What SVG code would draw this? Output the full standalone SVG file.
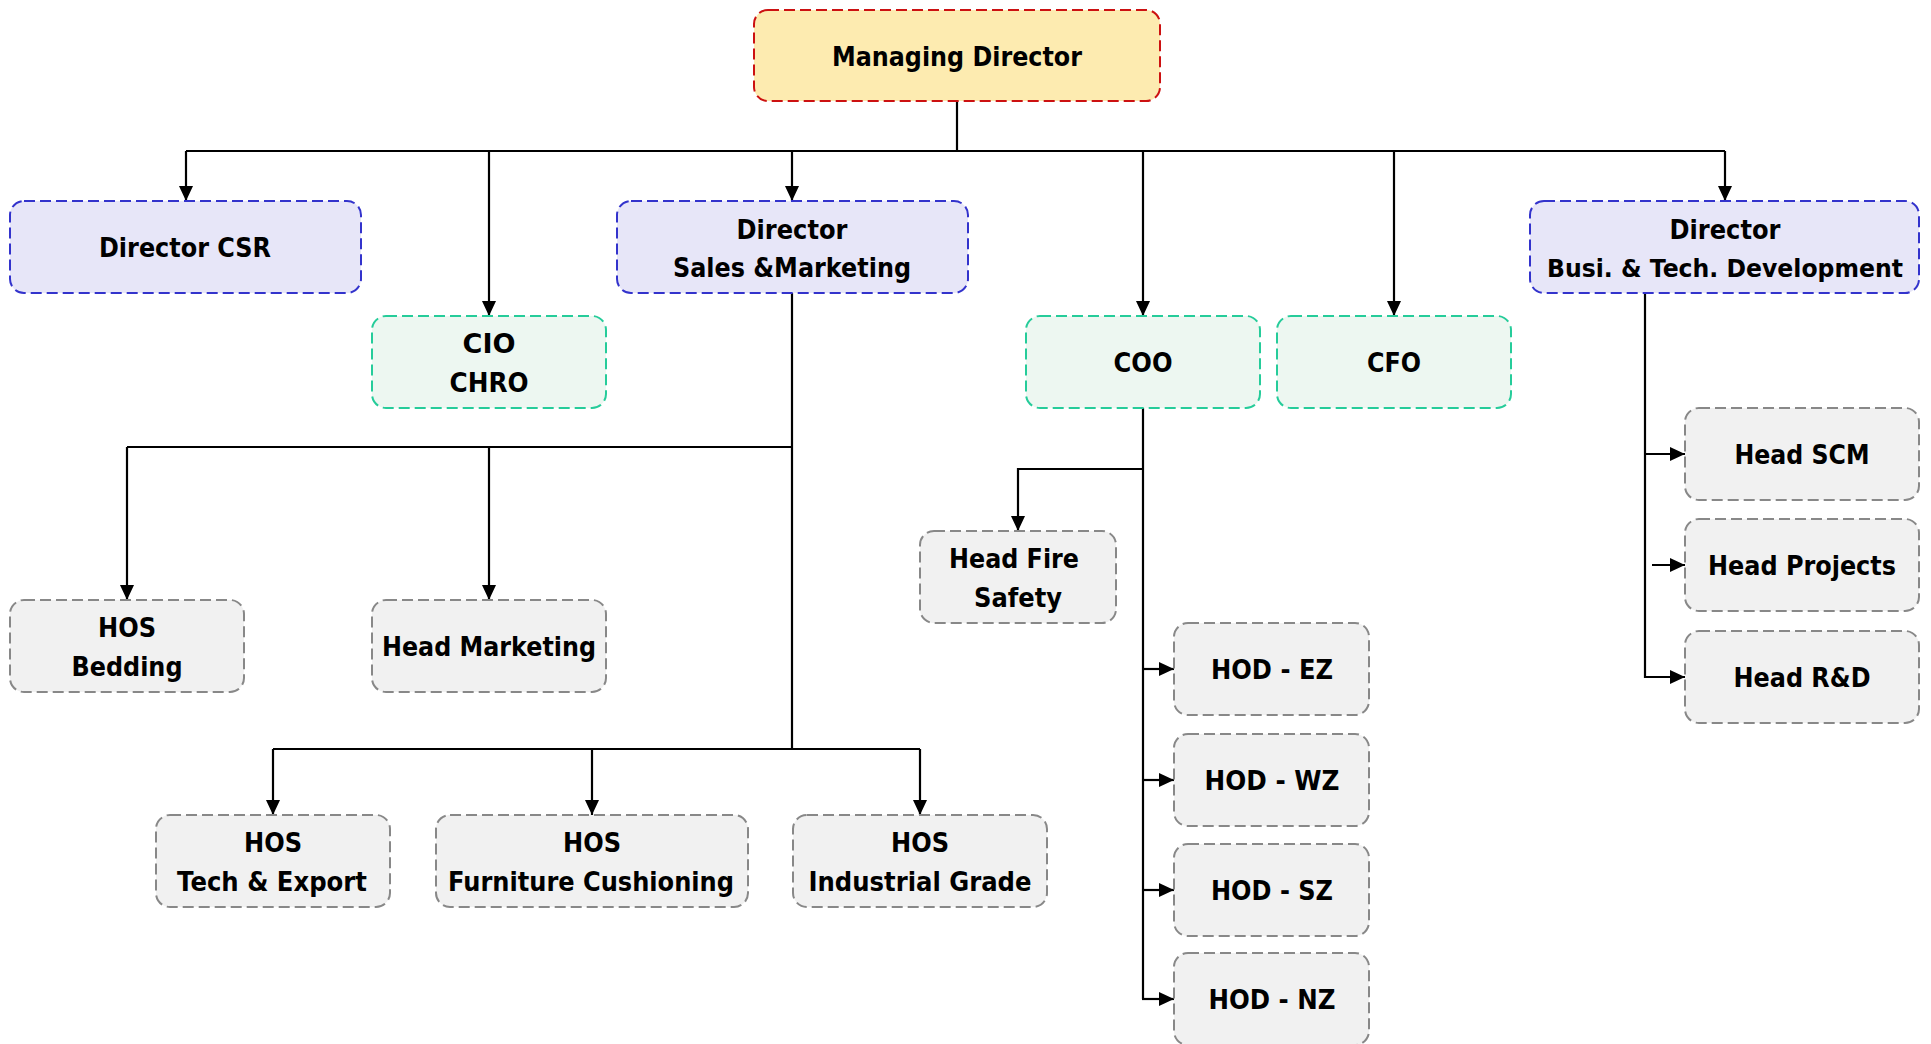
<svg xmlns="http://www.w3.org/2000/svg" width="1931" height="1044" viewBox="0 0 1931 1044">
<style>
.box{stroke-width:2;stroke-dasharray:11 5}
.md{fill:#fdebb0;stroke:#cc1111}
.dir{fill:#e7e6f8;stroke:#3333cc}
.cx{fill:#edf7f1;stroke:#26cc9a}
.hd{fill:#f1f1f1;stroke:#888888}
text{font-family:"DejaVu Sans","Liberation Sans",sans-serif;font-weight:bold;font-size:26px;fill:#000;text-anchor:middle}
.con path{fill:none;stroke:#000;stroke-width:2.2}
</style>
<defs>
<marker id="arr" markerUnits="userSpaceOnUse" markerWidth="15" markerHeight="14" refX="15" refY="7" orient="auto">
<path d="M0,0 L15,7 L0,14 z" fill="#000"/>
</marker>
</defs>
<rect width="1931" height="1044" fill="#fff"/>
<g class="con">
<path d="M957,101 V151"/>
<path d="M186,151 H1725"/>
<path d="M186,151 V201" marker-end="url(#arr)"/>
<path d="M489,151 V316" marker-end="url(#arr)"/>
<path d="M792,151 V201" marker-end="url(#arr)"/>
<path d="M1143,151 V316" marker-end="url(#arr)"/>
<path d="M1394,151 V316" marker-end="url(#arr)"/>
<path d="M1725,151 V201" marker-end="url(#arr)"/>
<path d="M792,293 V749"/>
<path d="M127,447 H792"/>
<path d="M127,447 V600" marker-end="url(#arr)"/>
<path d="M489,447 V600" marker-end="url(#arr)"/>
<path d="M273,749 H920"/>
<path d="M273,749 V815" marker-end="url(#arr)"/>
<path d="M592,749 V815" marker-end="url(#arr)"/>
<path d="M920,749 V815" marker-end="url(#arr)"/>
<path d="M1143,408 V999"/>
<path d="M1143,469 H1018 V531" marker-end="url(#arr)"/>
<path d="M1143,669 H1174" marker-end="url(#arr)"/>
<path d="M1143,780 H1174" marker-end="url(#arr)"/>
<path d="M1143,890 H1174" marker-end="url(#arr)"/>
<path d="M1142,999 H1174" marker-end="url(#arr)"/>
<path d="M1645,293 V677 H1685" marker-end="url(#arr)"/>
<path d="M1645,454 H1685" marker-end="url(#arr)"/>
<path d="M1652,565 H1685" marker-end="url(#arr)"/>
</g>
<g id="md"><rect class="box md" x="754" y="10" width="406" height="91" rx="14"/><text x="957" y="66" textLength="250" lengthAdjust="spacingAndGlyphs">Managing Director</text></g>
<g id="dir-csr"><rect class="box dir" x="10" y="201" width="351" height="92" rx="14"/><text x="185" y="257" textLength="172" lengthAdjust="spacingAndGlyphs">Director CSR</text></g>
<g id="cio-chro"><rect class="box cx" x="372" y="316" width="234" height="92" rx="14"/><text x="489" y="353" textLength="53" lengthAdjust="spacingAndGlyphs">CIO</text><text x="489" y="392" textLength="79" lengthAdjust="spacingAndGlyphs">CHRO</text></g>
<g id="dir-sm"><rect class="box dir" x="617" y="201" width="351" height="92" rx="14"/><text x="792" y="239" textLength="111" lengthAdjust="spacingAndGlyphs">Director</text><text x="792" y="277" textLength="238" lengthAdjust="spacingAndGlyphs">Sales &amp;Marketing</text></g>
<g id="coo"><rect class="box cx" x="1026" y="316" width="234" height="92" rx="14"/><text x="1143" y="372" textLength="59" lengthAdjust="spacingAndGlyphs">COO</text></g>
<g id="cfo"><rect class="box cx" x="1277" y="316" width="234" height="92" rx="14"/><text x="1394" y="372" textLength="54" lengthAdjust="spacingAndGlyphs">CFO</text></g>
<g id="dir-btd"><rect class="box dir" x="1530" y="201" width="389" height="92" rx="14"/><text x="1725" y="239" textLength="111" lengthAdjust="spacingAndGlyphs">Director</text><text x="1725" y="277" style="font-size:24px" textLength="356" lengthAdjust="spacingAndGlyphs">Busi. &amp; Tech. Development</text></g>
<g id="hos-bedding"><rect class="box hd" x="10" y="600" width="234" height="92" rx="14"/><text x="127" y="637" textLength="58" lengthAdjust="spacingAndGlyphs">HOS</text><text x="127" y="676" textLength="111" lengthAdjust="spacingAndGlyphs">Bedding</text></g>
<g id="head-marketing"><rect class="box hd" x="372" y="600" width="234" height="92" rx="14"/><text x="489" y="656" textLength="214" lengthAdjust="spacingAndGlyphs">Head Marketing</text></g>
<g id="head-fire"><rect class="box hd" x="920" y="531" width="196" height="92" rx="14"/><text x="1014" y="568" textLength="130" lengthAdjust="spacingAndGlyphs">Head Fire</text><text x="1018" y="607" textLength="88" lengthAdjust="spacingAndGlyphs">Safety</text></g>
<g id="hod-ez"><rect class="box hd" x="1174" y="623" width="195" height="92" rx="14"/><text x="1272" y="679" textLength="122" lengthAdjust="spacingAndGlyphs">HOD - EZ</text></g>
<g id="hod-wz"><rect class="box hd" x="1174" y="734" width="195" height="92" rx="14"/><text x="1272" y="790" textLength="135" lengthAdjust="spacingAndGlyphs">HOD - WZ</text></g>
<g id="hod-sz"><rect class="box hd" x="1174" y="844" width="195" height="92" rx="14"/><text x="1272" y="900" textLength="122" lengthAdjust="spacingAndGlyphs">HOD - SZ</text></g>
<g id="hod-nz"><rect class="box hd" x="1174" y="953" width="195" height="92" rx="14"/><text x="1272" y="1009" textLength="127" lengthAdjust="spacingAndGlyphs">HOD - NZ</text></g>
<g id="head-scm"><rect class="box hd" x="1685" y="408" width="234" height="92" rx="14"/><text x="1802" y="464" textLength="135" lengthAdjust="spacingAndGlyphs">Head SCM</text></g>
<g id="head-projects"><rect class="box hd" x="1685" y="519" width="234" height="92" rx="14"/><text x="1802" y="575" textLength="188" lengthAdjust="spacingAndGlyphs">Head Projects</text></g>
<g id="head-rd"><rect class="box hd" x="1685" y="631" width="234" height="92" rx="14"/><text x="1802" y="687" textLength="137" lengthAdjust="spacingAndGlyphs">Head R&amp;D</text></g>
<g id="hos-tech"><rect class="box hd" x="156" y="815" width="234" height="92" rx="14"/><text x="273" y="852" textLength="58" lengthAdjust="spacingAndGlyphs">HOS</text><text x="272" y="891" textLength="190" lengthAdjust="spacingAndGlyphs">Tech &amp; Export</text></g>
<g id="hos-furniture"><rect class="box hd" x="436" y="815" width="312" height="92" rx="14"/><text x="592" y="852" textLength="58" lengthAdjust="spacingAndGlyphs">HOS</text><text x="591" y="891" textLength="286" lengthAdjust="spacingAndGlyphs">Furniture Cushioning</text></g>
<g id="hos-industrial"><rect class="box hd" x="793" y="815" width="254" height="92" rx="14"/><text x="920" y="852" textLength="58" lengthAdjust="spacingAndGlyphs">HOS</text><text x="920" y="891" textLength="223" lengthAdjust="spacingAndGlyphs">Industrial Grade</text></g>
</svg>
